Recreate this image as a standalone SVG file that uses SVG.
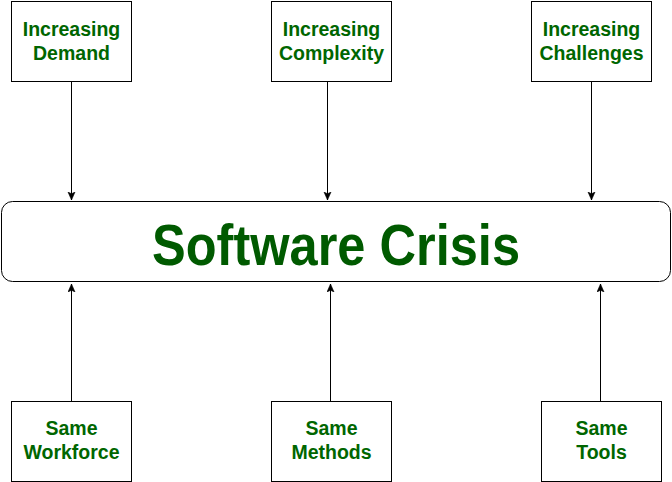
<svg xmlns="http://www.w3.org/2000/svg" width="672" height="482" viewBox="0 0 672 482">
<style>
.box{fill:#fff;stroke:#000;stroke-width:1}
.lbl{font-family:"Liberation Sans",Arial,sans-serif;font-weight:bold;font-size:19.5px;fill:#006600;text-anchor:middle}
.main{font-family:"Liberation Sans",Arial,sans-serif;font-weight:bold;font-size:58px;fill:#005a00;text-anchor:middle}
.con{stroke:#000;stroke-width:1;fill:none}
</style>
<defs>
<marker id="ah" markerWidth="10" markerHeight="10" refX="8" refY="4" orient="auto" markerUnits="userSpaceOnUse">
<path d="M0,0.5 L8,4 L0,7.5 L1.8,4 Z" fill="#000" stroke="#000" stroke-width="0.6"/>
</marker>
</defs>
<rect width="672" height="482" fill="#fff"/>
<g id="connectors">
<path class="con" d="M71.5,81.5 V200" marker-end="url(#ah)"/>
<path class="con" d="M327.5,81.5 V200" marker-end="url(#ah)"/>
<path class="con" d="M591.5,81.5 V200" marker-end="url(#ah)"/>
<path class="con" d="M71.5,401.5 V284" marker-end="url(#ah)"/>
<path class="con" d="M330.5,401.5 V284" marker-end="url(#ah)"/>
<path class="con" d="M600.5,401.5 V284" marker-end="url(#ah)"/>
</g>
<g id="software-crisis">
<rect class="box" x="1.5" y="201.5" width="669" height="80" rx="11" ry="11"/>
<text class="main" x="336" y="265" textLength="368" lengthAdjust="spacingAndGlyphs">Software Crisis</text>
</g>
<g id="increasing-demand">
<rect class="box" x="11.5" y="1.5" width="120" height="80"/>
<text class="lbl" x="71.5" y="36">Increasing</text>
<text class="lbl" x="71.5" y="60">Demand</text>
</g>
<g id="increasing-complexity">
<rect class="box" x="271.5" y="1.5" width="120" height="80"/>
<text class="lbl" x="331.5" y="36">Increasing</text>
<text class="lbl" x="331.5" y="60">Complexity</text>
</g>
<g id="increasing-challenges">
<rect class="box" x="531.5" y="1.5" width="120" height="80"/>
<text class="lbl" x="591.5" y="36">Increasing</text>
<text class="lbl" x="591.5" y="60">Challenges</text>
</g>
<g id="same-workforce">
<rect class="box" x="11.5" y="401.5" width="120" height="80"/>
<text class="lbl" x="71.5" y="435">Same</text>
<text class="lbl" x="71.5" y="459">Workforce</text>
</g>
<g id="same-methods">
<rect class="box" x="271.5" y="401.5" width="120" height="80"/>
<text class="lbl" x="331.5" y="435">Same</text>
<text class="lbl" x="331.5" y="459">Methods</text>
</g>
<g id="same-tools">
<rect class="box" x="541.5" y="401.5" width="120" height="80"/>
<text class="lbl" x="601.5" y="435">Same</text>
<text class="lbl" x="601.5" y="459">Tools</text>
</g>
</svg>
